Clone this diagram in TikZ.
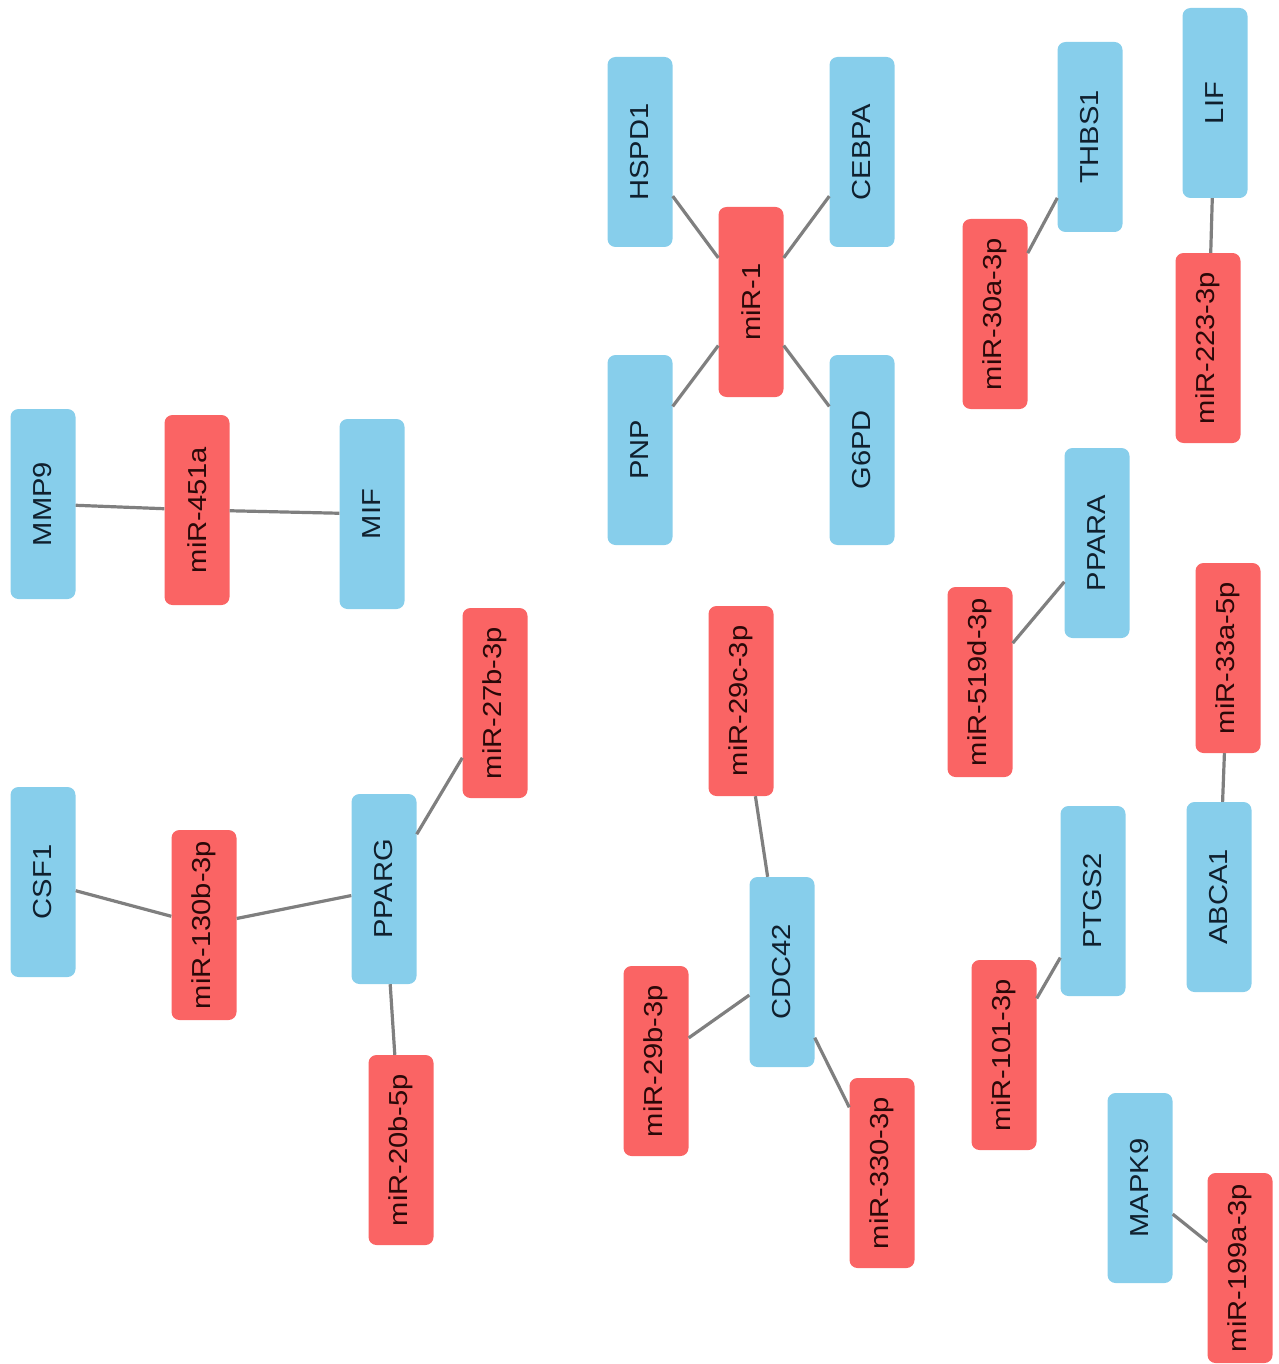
\documentclass[tikz,border=0pt]{standalone}
\usepackage{fontspec}
\setmainfont{Liberation Sans}[FakeStretch=1.12]
\definecolor{geneblue}{HTML}{87CEEB}
\definecolor{mirred}{HTML}{FA6464}
\definecolor{genetext}{HTML}{10202E}
\definecolor{mirtext}{HTML}{2A0808}
\definecolor{edgegray}{HTML}{7F7F7F}
\tikzset{
  base/.style={rectangle, rounded corners=8pt, rotate=90, minimum width=190pt, minimum height=65pt, inner sep=0pt, font=\fontsize{26}{31}\selectfont},
  gene/.style={base, fill=geneblue, text=genetext},
  mir/.style={base, fill=mirred, text=mirtext},
  link/.style={draw=edgegray, line width=3.2pt}
}
\begin{document}
\begin{tikzpicture}[x=1pt,y=-1pt]
\useasboundingbox (0,0) rectangle (1278,1364);
% genes
\node[gene] (HSPD1) at (640,152) {HSPD1};
\node[gene] (CEBPA) at (862,152) {CEBPA};
\node[gene] (PNP) at (640,450) {PNP};
\node[gene] (G6PD) at (862,450) {G6PD};
\node[gene] (THBS1) at (1090,137) {THBS1};
\node[gene] (LIF) at (1215,103) {LIF};
\node[gene] (MMP9) at (43,504) {MMP9};
\node[gene] (MIF) at (372,514) {MIF};
\node[gene] (PPARA) at (1097,543) {PPARA};
\node[gene] (CSF1) at (43,882) {CSF1};
\node[gene] (PPARG) at (384,889) {PPARG};
\node[gene] (CDC42) at (782,972) {CDC42};
\node[gene] (PTGS2) at (1093,901) {PTGS2};
\node[gene] (ABCA1) at (1219,897) {ABCA1};
\node[gene] (MAPK9) at (1140,1188) {MAPK9};
% miRNAs
\node[mir] (m1) at (751,302) {miR-1};
\node[mir] (m30a) at (995,314) {miR-30a-3p};
\node[mir] (m223) at (1208,348) {miR-223-3p};
\node[mir] (m451a) at (197,510) {miR-451a};
\node[mir] (m27b) at (495,703) {miR-27b-3p};
\node[mir] (m29c) at (741,701) {miR-29c-3p};
\node[mir] (m519d) at (980,682) {miR-519d-3p};
\node[mir] (m33a) at (1228,658) {miR-33a-5p};
\node[mir] (m130b) at (204,925) {miR-130b-3p};
\node[mir] (m20b) at (401,1150) {miR-20b-5p};
\node[mir] (m29b) at (656,1061) {miR-29b-3p};
\node[mir] (m330) at (882,1173) {miR-330-3p};
\node[mir] (m101) at (1004,1055) {miR-101-3p};
\node[mir] (m199a) at (1240,1268) {miR-199a-3p};
% edges
\draw[link] (HSPD1) -- (m1);
\draw[link] (CEBPA) -- (m1);
\draw[link] (PNP) -- (m1);
\draw[link] (G6PD) -- (m1);
\draw[link] (THBS1) -- (m30a);
\draw[link] (LIF) -- (m223);
\draw[link] (MMP9) -- (m451a);
\draw[link] (m451a) -- (MIF);
\draw[link] (CSF1) -- (m130b);
\draw[link] (m130b) -- (PPARG);
\draw[link] (PPARG) -- (m27b);
\draw[link] (PPARG) -- (m20b);
\draw[link] (m29c) -- (CDC42);
\draw[link] (CDC42) -- (m29b);
\draw[link] (CDC42) -- (m330);
\draw[link] (PPARA) -- (m519d);
\draw[link] (PTGS2) -- (m101);
\draw[link] (ABCA1) -- (m33a);
\draw[link] (MAPK9) -- (m199a);
\end{tikzpicture}
\end{document}
